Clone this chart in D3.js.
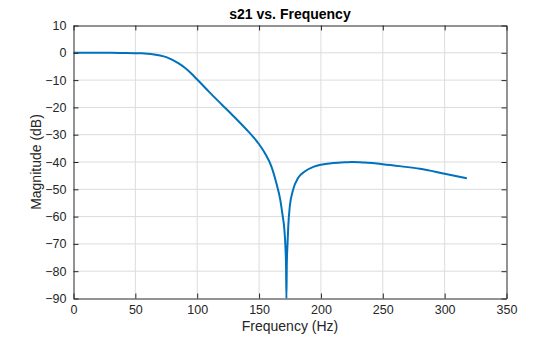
<!DOCTYPE html>
<html><head><meta charset="utf-8">
<script src="https://cdn.jsdelivr.net/npm/d3@7"></script>
<style>body{margin:0;background:#fff}svg{display:block;font-family:"Liberation Sans",Arial,sans-serif}</style>
</head><body>
<svg id="c" width="560" height="337"></svg>
<script>
const freq = [0,10,20,30,40,50,55,60,65,70,75,80,85,90,95,100,110,120,130,140,145,150,155,160,164,167,169,170.3,171.3,171.8,172.1,172.4,173,173.6,174.8,177.5,181.5,186.9,194.4,200,210,220,225,235,250,265,280,298,318];
const magDb = [0,0,0,0,-0.05,-0.12,-0.2,-0.35,-0.6,-1.0,-1.6,-2.6,-3.9,-5.5,-7.5,-9.8,-14.5,-19,-23.5,-28.2,-30.7,-33.5,-37,-41.7,-47.8,-53.5,-59.5,-64,-71,-78,-90,-78,-70,-63.5,-56.4,-50.2,-45.9,-43.5,-41.7,-41.0,-40.4,-40.1,-40.0,-40.2,-40.8,-41.6,-42.5,-44.1,-46];
const xTicks = [0,50,100,150,200,250,300,350];
const yTicks = [10,0,-10,-20,-30,-40,-50,-60,-70,-80,-90];

const svg = d3.select("#c");
const L=73.5, R=506.5, T=25.5, B=298.5;
const x = d3.scaleLinear().domain([0,350]).range([L,R]);
const y = d3.scaleLinear().domain([-90,10]).range([B,T]);
const ax = "#262626";
const ff = '"Liberation Sans",Arial,sans-serif';

// grid
svg.append("g").selectAll("line").data(xTicks.slice(1,-1)).join("line")
  .attr("x1",d=>x(d)).attr("x2",d=>x(d)).attr("y1",T).attr("y2",B)
  .attr("stroke","#dcdcdc").attr("stroke-width",1);
svg.append("g").selectAll("line").data(yTicks.slice(1,-1)).join("line")
  .attr("y1",d=>y(d)).attr("y2",d=>y(d)).attr("x1",L).attr("x2",R)
  .attr("stroke","#dcdcdc").attr("stroke-width",1);

// curve
svg.append("defs").append("clipPath").attr("id","clip").append("rect")
  .attr("x",L).attr("y",T).attr("width",R-L).attr("height",B-T);
const pts = freq.map((f,i)=>[f,magDb[i]]);
svg.append("path").datum(pts).attr("clip-path","url(#clip)")
  .attr("d",d3.line().x(d=>x(d[0])).y(d=>y(d[1])).curve(d3.curveMonotoneX))
  .attr("fill","none").attr("stroke","#0072BD").attr("stroke-width",2);

// axes
const fs = "12.5px";
const gx = svg.append("g").attr("transform",`translate(0,${B})`)
  .call(d3.axisBottom(x).tickValues(xTicks).tickSizeInner(-5).tickSizeOuter(0).tickPadding(7));
const gy = svg.append("g").attr("transform",`translate(${L},0)`)
  .call(d3.axisLeft(y).tickValues(yTicks).tickSizeInner(-5).tickSizeOuter(0).tickPadding(7));
const gt = svg.append("g").attr("transform",`translate(0,${T})`)
  .call(d3.axisTop(x).tickValues(xTicks).tickSizeInner(-5).tickSizeOuter(0).tickFormat(""));
const gr = svg.append("g").attr("transform",`translate(${R},0)`)
  .call(d3.axisRight(y).tickValues(yTicks).tickSizeInner(-5).tickSizeOuter(0).tickFormat(""));
[gx,gy,gt,gr].forEach(g=>{
  g.select(".domain").attr("stroke",ax);
  g.selectAll(".tick line").attr("stroke",ax);
  g.selectAll("text").attr("fill",ax).style("font-size",fs).style("font-family",ff);
});

svg.append("text").attr("x",(L+R)/2).attr("y",19).attr("text-anchor","middle").style("font-family",ff)
  .style("font-size","14px").style("font-weight","bold").attr("fill","#000").text("s21 vs. Frequency");
svg.append("text").attr("x",(L+R)/2).attr("y",331).attr("text-anchor","middle").style("font-family",ff)
  .style("font-size","14px").attr("fill",ax).text("Frequency (Hz)");
svg.append("text").attr("transform",`translate(40.5,${(T+B)/2}) rotate(-90)`).attr("text-anchor","middle").style("font-family",ff)
  .style("font-size","14px").attr("fill",ax).text("Magnitude (dB)");
</script>
</body></html>
